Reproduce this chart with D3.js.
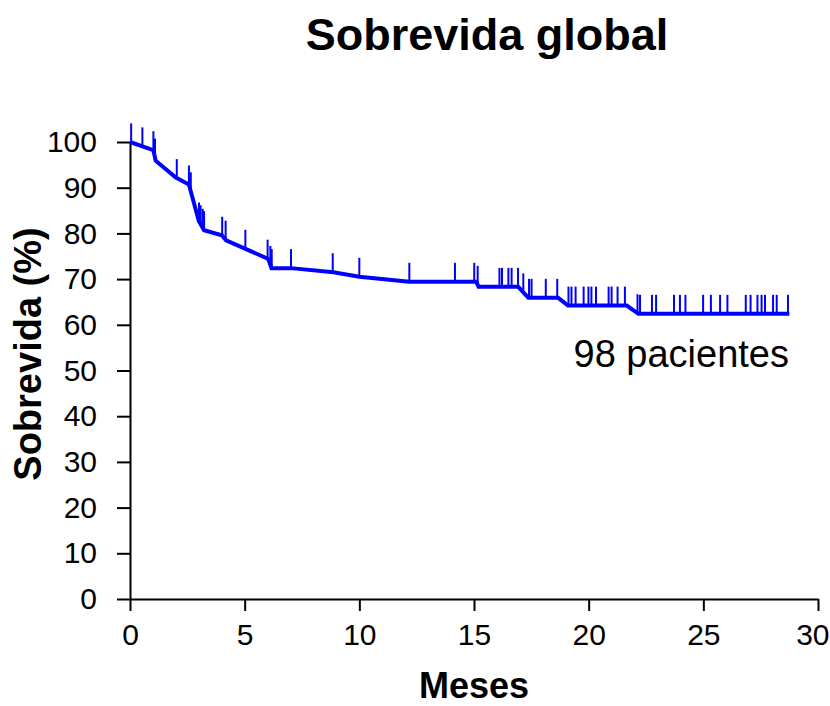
<!DOCTYPE html>
<html>
<head>
<meta charset="utf-8">
<script src="https://cdn.jsdelivr.net/npm/d3@7"></script>
<style>
  html, body { margin: 0; padding: 0; background: #fff; }
  svg { display: block; font-family: "Liberation Sans", Arial, Helvetica, sans-serif; }
</style>
</head>
<body>
<svg id="chart" width="830" height="706"></svg>
<script>
// Survival curve vertices (months, % survival)
const curveTimes = [0, 1.02, 1.12, 2.0, 2.57, 3.0, 3.23, 4.0, 4.19, 6.03, 6.17, 7.02, 8.87, 10.0, 12.18, 15.1, 15.2, 16.93, 17.37, 18.67, 19.1, 21.66, 22.17, 28.75];
const curveSurvival = [100, 98.2, 95.9, 92.2, 90.7, 82.7, 80.7, 79.6, 78.5, 74.4, 72.4, 72.4, 71.5, 70.5, 69.4, 69.4, 68.3, 68.3, 65.9, 65.9, 64.2, 64.2, 62.4, 62.4];

// Censored observations (months)
const censorTimes = [0.05, 0.54, 1.02, 1.09, 2.04, 2.57, 2.65, 3.01, 3.08, 3.17, 3.23, 4.02, 4.17, 5.03,
  6.0, 6.12, 6.18, 7.02, 8.84, 10.0, 12.18, 14.17, 15.01, 15.16, 16.11, 16.22, 16.5, 16.64, 16.92,
  17.15, 17.4, 17.51, 18.13, 18.63, 19.12, 19.25, 19.43, 19.78, 19.99, 20.12, 20.32, 20.87, 21.0,
  21.26, 21.58, 22.13, 22.24, 22.76, 22.94, 23.72, 23.98, 24.22, 24.99, 25.33, 25.73, 26.05, 26.85,
  27.06, 27.36, 27.54, 27.69, 28.04, 28.2, 28.69];

const xTicks = [0, 5, 10, 15, 20, 25, 30];
const yTicks = [0, 10, 20, 30, 40, 50, 60, 70, 80, 90, 100];

const titleText = "Sobrevida global";
const xLabel = "Meses";
const yLabel = "Sobrevida (%)";
const annotation = "98 pacientes";

const svg = d3.select("#chart");
const x = d3.scaleLinear().domain([0, 30]).range([130, 818]);
const y = d3.scaleLinear().domain([0, 100]).range([599, 142]);

// Axes
const xAxis = d3.axisBottom(x).tickValues(xTicks).tickSize(12).tickSizeOuter(0).tickPadding(6);
const yAxis = d3.axisLeft(y).tickValues(yTicks).tickSize(13).tickSizeOuter(0).tickPadding(20);

const gx = svg.append("g").attr("transform", `translate(0,${y(0)})`).call(xAxis);
const gy = svg.append("g").attr("transform", `translate(${x(0)},0)`).call(yAxis);
[gx, gy].forEach(g => {
  g.selectAll("path.domain").attr("stroke", "#000").attr("stroke-width", 2);
  g.selectAll(".tick line").attr("stroke", "#000").attr("stroke-width", 2);
  g.selectAll(".tick text").attr("fill", "#000").style("font-size", "30px")
    .style("font-family", '"Liberation Sans", Arial, sans-serif');
});
gx.selectAll(".tick text").attr("dy", "0.93em");
// keep the last x label inside the window, as in the reference
gx.selectAll(".tick text").filter(d => d === 30)
  .attr("text-anchor", "end").attr("x", 829 - x(30));

// Curve
const pts = curveTimes.map((t, i) => [t, curveSurvival[i]]);
const line = d3.line().x(d => x(d[0])).y(d => y(d[1]));
svg.append("path").datum(pts)
  .attr("d", line)
  .attr("fill", "none")
  .attr("stroke", "#0000ff")
  .attr("stroke-width", 4)
  .attr("stroke-linejoin", "miter");

// Interpolate survival at time t along the curve
function survAt(t) {
  for (let i = 1; i < curveTimes.length; i++) {
    if (t <= curveTimes[i]) {
      const t0 = curveTimes[i - 1], t1 = curveTimes[i];
      const s0 = curveSurvival[i - 1], s1 = curveSurvival[i];
      return s0 + (s1 - s0) * (t - t0) / (t1 - t0);
    }
  }
  return curveSurvival[curveSurvival.length - 1];
}

// Censor marks
svg.append("g").selectAll("line").data(censorTimes).join("line")
  .attr("x1", d => x(d)).attr("x2", d => x(d))
  .attr("y1", d => y(survAt(d)))
  .attr("y2", d => y(survAt(d)) - 19)
  .attr("stroke", "#0000ff")
  .attr("stroke-width", 2);

// Texts
svg.append("text").attr("x", 487).attr("y", 50).attr("text-anchor", "middle")
  .style("font-size", "45px").style("font-weight", "bold").text(titleText);

svg.append("text").attr("x", 474).attr("y", 698).attr("text-anchor", "middle")
  .style("font-size", "36px").style("font-weight", "bold").text(xLabel);

svg.append("text").attr("transform", "translate(41,354) rotate(-90)").attr("text-anchor", "middle")
  .style("font-size", "38px").style("font-weight", "bold").text(yLabel);

svg.append("text").attr("x", 789).attr("y", 367).attr("text-anchor", "end")
  .style("font-size", "38px").text(annotation);
</script>
</body>
</html>
